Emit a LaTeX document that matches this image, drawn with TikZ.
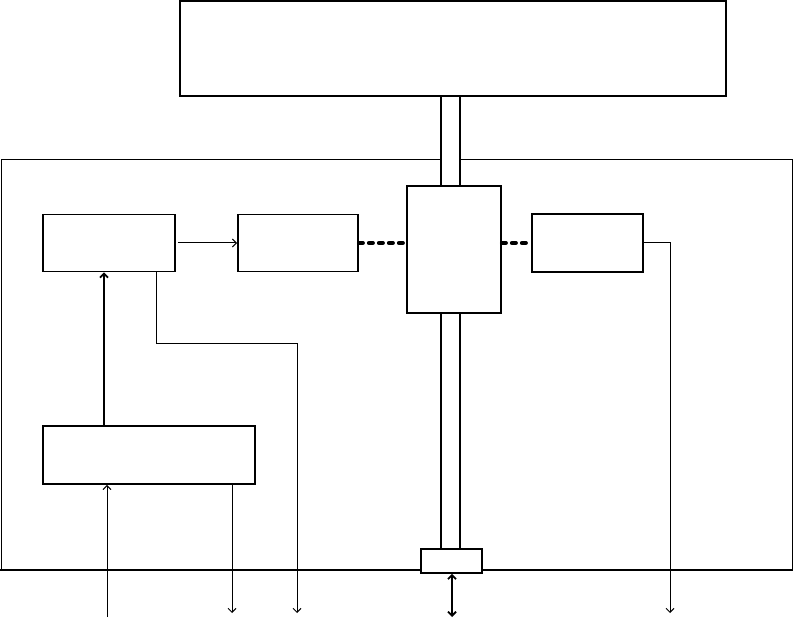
\documentclass[tikz,border=0pt]{standalone}
\usetikzlibrary{arrows.meta,positioning}
\tikzset{
  blk/.style 2 args={draw,line width=1.8pt,minimum width=#1pt,minimum height=#2pt,inner sep=0pt},
  sig/.style={-{Straight Barb[length=4pt,width=8pt]},line width=1pt},
  thksig/.style={sig,line width=1.8pt},
  bidir/.style={{Straight Barb[length=4pt,width=8pt]}-{Straight Barb[length=4pt,width=8pt]},line width=1.8pt},
  link/.style={line width=4pt,dash pattern=on 4pt off 6pt,line cap=round},
  bus/.style={double,double distance=17.5pt,line width=1.6pt},
}
\begin{document}
\begin{tikzpicture}[x=1pt,y=-1pt]
  \useasboundingbox (0,0) rectangle (793,620);
  % enclosure
  \draw[line width=1pt] (1,160) rectangle (792,570);
  \draw[line width=2pt] (0,570) -- (793,570);
  % blocks
  \node[blk={546}{95}] (host) at (453,48.5) {};
  \node[blk={132}{57}] (ctrl) at (109,243) {};
  \node[blk={120}{57}] (proc) at (298,243) {};
  \node[blk={94}{127}] (hub) at (454,249.5) {};
  \node[blk={111}{58}] (outb) at (587.5,243) {};
  \node[blk={212}{58}] (supply) at (149,455) {};
  \node[blk={61}{24},fill=white] (port) at (451.5,561) {};
  % free ends
  \coordinate (bus) at (450.5,0);
  \coordinate (sin) at (107,617);
  \coordinate (sout) at (232,613);
  \coordinate (cout) at (297,613);
  \coordinate (dout) at (670,613);
  \coordinate (pio) at (452,617);
  % bus
  \draw[bus] (host.south -| bus) -- (hub.north -| bus);
  \draw[bus] (hub.south -| bus) -- (port.north -| bus);
  % links
  \draw[sig,shorten <=2pt] (ctrl.east) -- (ctrl.east -| proc.west);
  \draw[link] (proc.east) -- (proc.east -| hub.west);
  \draw[link] (hub.east |- outb.west) -- (outb.west);
  \draw[sig] (outb.east) -| (dout);
  \draw[sig] ([xshift=47pt]ctrl.south) -- ++(0,71) -| (cout);
  \draw[thksig] ([xshift=-45pt]supply.north) -- ([xshift=-45pt]supply.north |- ctrl.south);
  \draw[sig] (sin) -- (sin |- supply.south);
  \draw[sig] (sout |- supply.south) -- (sout);
  \draw[bidir] (port.south -| pio) -- (pio);
\end{tikzpicture}
\end{document}
